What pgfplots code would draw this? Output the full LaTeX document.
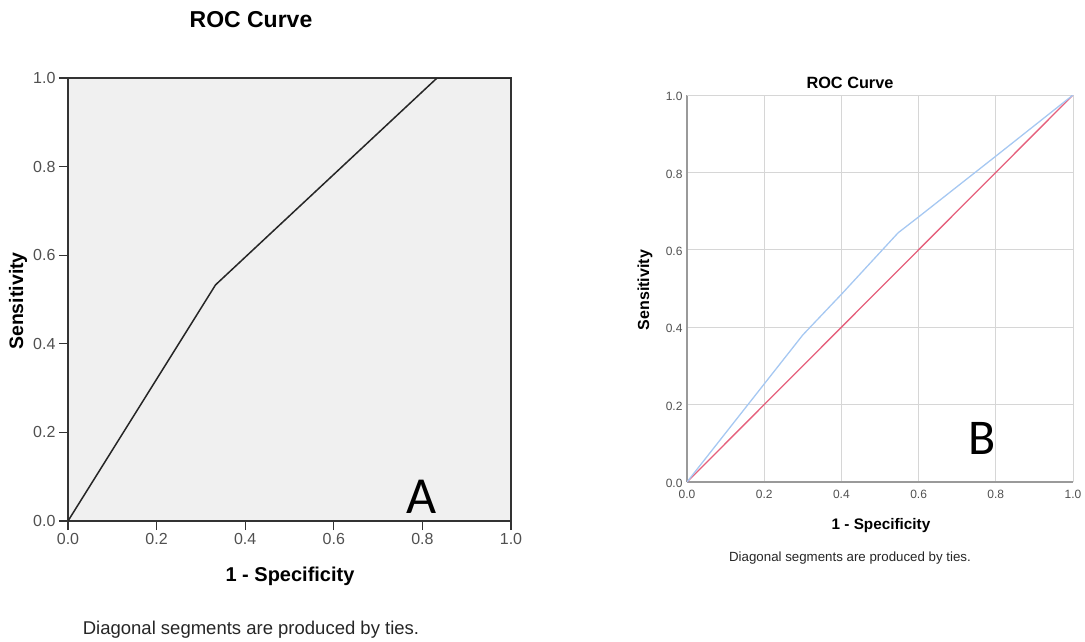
\documentclass[border=0pt]{standalone}
\usepackage{pgfplots}
\pgfplotsset{compat=1.18}
\usepackage{fontspec}
\setmainfont{Liberation Sans}
\newfontfamily\calib{Carlito}
\definecolor{bgA}{HTML}{F0F0F0}
\definecolor{frameA}{HTML}{333333}
\definecolor{tickA}{HTML}{505050}
\definecolor{gridB}{HTML}{D6D6D6}
\definecolor{axisB}{HTML}{9A9A9A}
\definecolor{blueB}{HTML}{A6C8F2}
\definecolor{redB}{HTML}{E5607C}
\newcommand{\fs}[1]{\fontsize{#1}{#1}\selectfont}
\begin{document}
\begin{tikzpicture}[x=1pt,y=1pt]
\path[use as bounding box] (0,0) rectangle (1085,-641);
% ---------- Panel A ----------
\begin{axis}[
  at={(68pt,-521pt)}, anchor=south west,
  scale only axis, width=443pt, height=443pt,
  xmin=0, xmax=1, ymin=0, ymax=1,
  xtick={0,0.2,0.4,0.6,0.8,1}, ytick={0,0.2,0.4,0.6,0.8,1},
  xtick pos=bottom, ytick pos=left,
  tick align=outside, major tick length=9pt,
  tick style={frameA, line width=1.3pt},
  axis line style={frameA, line width=1.6pt},
  axis background/.style={fill=bgA},
  ticklabel style={font=\fs{16}, text=tickA},
  /pgf/number format/.cd, fixed, fixed zerofill, precision=1, assume math mode=true,
]
\addplot[black!85, line width=1.5pt] coordinates {(0,0) (0.333,0.533) (0.833,1) (1,1)};
\end{axis}
\node[font=\bfseries\fs{23}, inner sep=0] at (251,-20) {ROC Curve};
\node[font=\bfseries\fs{19.5}, inner sep=0, rotate=90] at (18,-301) {Sensitivity};
\node[font=\bfseries\fs{20}, inner sep=0] at (290,-576) {1 - Specificity};
\node[font=\fs{18.5}, text=black!85, inner sep=0] at (251,-630) {Diagonal segments are produced by ties.};
\node[font=\calib\fs{52}, inner sep=0] at (422,-497) {A};
% ---------- Panel B ----------
\begin{axis}[
  at={(687pt,-482pt)}, anchor=south west,
  scale only axis, width=386pt, height=387pt,
  xmin=0, xmax=1, ymin=0, ymax=1,
  xtick={0,0.2,0.4,0.6,0.8,1}, ytick={0,0.2,0.4,0.6,0.8,1},
  axis x line*=bottom, axis y line*=left,
  axis line style={axisB, line width=1.6pt, -},
  major tick length=0pt,
  grid=major, major grid style={gridB, line width=1pt},
  ticklabel style={font=\fs{12}, text=tickA},
  xticklabel style={yshift=-5pt},
  yticklabel style={xshift=-1pt, yshift=-1.5pt},
  /pgf/number format/.cd, fixed, fixed zerofill, precision=1, assume math mode=true,
]
\addplot[gridB, line width=1pt, forget plot] coordinates {(0,1) (1,1) (1,0)};
\addplot[redB, line width=1.3pt] coordinates {(0,0) (1,1)};
\addplot[blueB, line width=1.3pt] coordinates {(0,0) (0.15,0.19) (0.30,0.38) (0.40,0.485) (0.547,0.644) (0.6,0.685) (0.8,0.842) (1,1)};
\end{axis}
\node[font=\bfseries\fs{16.3}, inner sep=0] at (850,-83) {ROC Curve};
\node[font=\bfseries\fs{16}, inner sep=0, rotate=90] at (645,-290) {Sensitivity};
\node[font=\bfseries\fs{15.3}, inner sep=0] at (881,-526) {1 - Specificity};
\node[font=\fs{13.3}, text=black!85, inner sep=0] at (850,-558) {Diagonal segments are produced by ties.};
\node[font=\calib\fs{50}, inner sep=0] at (982,-438) {B};
\end{tikzpicture}
\end{document}
